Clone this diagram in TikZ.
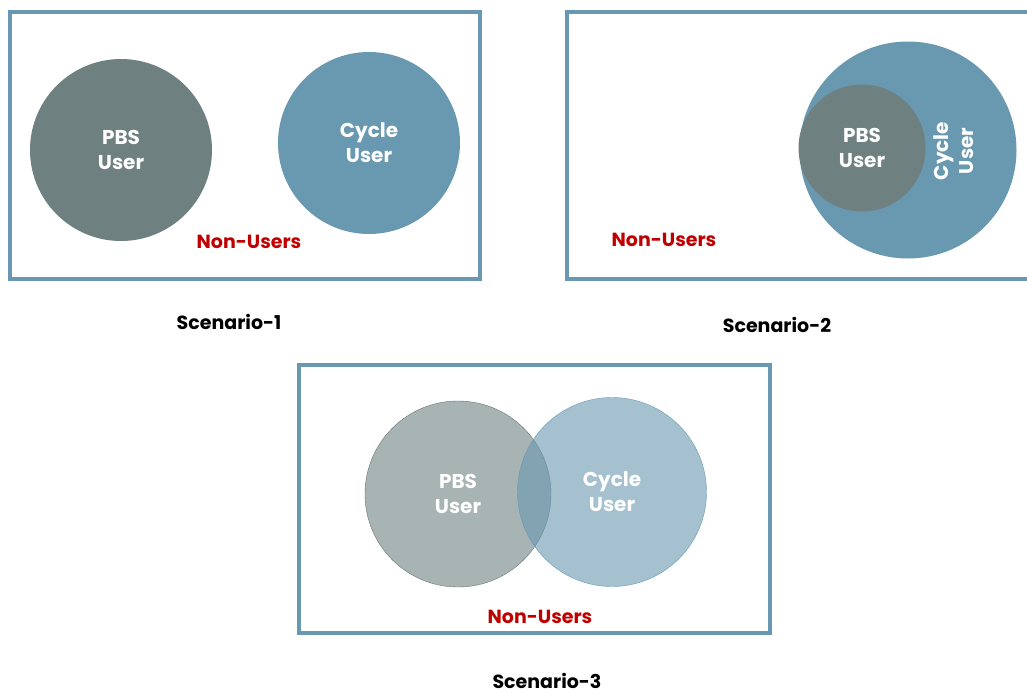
\documentclass[tikz,border=0pt]{standalone}
\usepackage{fontspec}
\setmainfont{Poppins}
\definecolor{boxblue}{HTML}{6A98B3}
\definecolor{pbsgray}{HTML}{6E8080}
\definecolor{pbsline}{HTML}{6A7676}
\definecolor{cycleblue}{HTML}{6998B1}
\definecolor{nonred}{HTML}{C00000}
\begin{document}
\begin{tikzpicture}[x=1pt, y=-1pt,
	frame/.style={draw=boxblue, line width=3.5pt},
	user/.style={circle, inner sep=0pt, align=center, text=white, font=\fontsize{20}{25}\selectfont\bfseries},
	nonuser/.style={text=nonred, font=\fontsize{19}{22}\selectfont\bfseries},
	caption/.style={anchor=base, inner sep=1pt, font=\fontsize{19}{22}\selectfont\bfseries}]
	\useasboundingbox (0,0) rectangle (1027,693);
	% Scenario-1
	\draw[frame] (10,12) rectangle (480,279);
	\node[user, fill=pbsgray, minimum size=182pt] (pbsA) at (121,150) {PBS\\User};
	\node[user, fill=cycleblue, minimum size=182pt] (cycA) at (369,143) {Cycle\\User};
	\node[nonuser] (nonA) at (249,242) {Non-Users};
	\node[caption] (capA) at (229,329) {Scenario-1};
	% Scenario-2 (box runs off the right edge)
	\draw[frame] (1027,12) -| (567,279) -- (1027,279);
	\node[user, fill=cycleblue, minimum size=217pt] (cycB) at (908,150) {};
	\node[user, fill=pbsgray, minimum size=127pt] (pbsB) at (862,148) {PBS\\User};
	\node[user, rotate=90] (cycBtxt) at (954,151) {Cycle\\User};
	\node[nonuser] (nonB) at (664,240) {Non-Users};
	\node[caption] (capB) at (777,332) {Scenario-2};
	% Scenario-3
	\draw[frame] (299,365) rectangle (770,633);
	\node[user, fill=pbsgray, fill opacity=0.6, text opacity=1, draw=pbsline, minimum size=186pt] (pbsC) at (458,494) {PBS\\User};
	\node[user, fill=cycleblue, fill opacity=0.6, text opacity=1, draw=boxblue, minimum size=189pt] (cycC) at (612,492) {Cycle\\User};
	\node[nonuser] (nonC) at (540,617) {Non-Users};
	\node[caption] (capC) at (547,688) {Scenario-3};
\end{tikzpicture}
\end{document}
